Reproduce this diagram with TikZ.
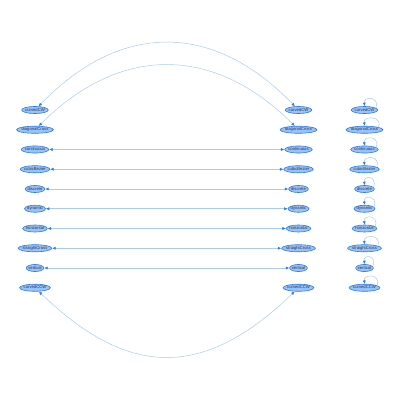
\documentclass[tikz,border=0pt]{standalone}
\usepackage{fontspec}
\setmainfont{Liberation Sans}
\usepackage{tikz}
\usetikzlibrary{arrows.meta,shapes.geometric,positioning}
\definecolor{nodefill}{HTML}{97C2FC}
\definecolor{nodeborder}{HTML}{2B7CE9}
\definecolor{edgeblue}{HTML}{A9CAF7}
\definecolor{labelgray}{HTML}{343434}
\tikzset{>={Latex[length=3.5pt,width=3pt,color=nodeborder]}}
\tikzset{
  smooth node/.style={ellipse, draw=nodeborder, fill=nodefill, line width=0.6pt,
    inner xsep=-0.4pt, inner ysep=0.6pt, text height=3pt, text depth=0.8pt,
    text=labelgray, font=\fontsize{4.2}{4.2}\selectfont},
  pair/.style={draw=edgeblue, line width=0.5pt, <->},
  selfloop/.style={draw=edgeblue, line width=0.5pt, ->}
}

\begin{document}
\begin{tikzpicture}[x=1pt,y=1pt]
            \useasboundingbox (0,0) rectangle (400,400);

            % three columns, one row per smooth type
            \foreach \name [count=\i] in {curvedCW,diagonalCross,continuous,cubicBezier,discrete,dynamic,horizontal,straightCross,vertical,curvedCCW}
            {
            \node[smooth node] (L\i) at (35,{290-19.75*(\i-1)}) {\name};
            \node[smooth node] (M\i) at (298.5,{290-19.75*(\i-1)}) {\name};
            \node[smooth node] (R\i) at (364.5,{290-19.75*(\i-1)}) {\name};
            }

            % left to middle
            \draw[pair] (L1) to[out=46,in=134,looseness=1.18] (M1);
            \draw[pair] (L2) to[out=45,in=135,looseness=1.15] (M2);
            \foreach \i in {3,...,9}
            \draw[pair] (L\i) -- (M\i);
            \draw[pair] (L10) to[out=-44,in=-136,looseness=1.26] (M10);

            % loops on the right
            \foreach \i in {1,...,10}
            \draw[selfloop] (R\i.10) .. controls +(4,12) and +(-2,10) .. (R\i.85);
\end{tikzpicture}
\end{document}
